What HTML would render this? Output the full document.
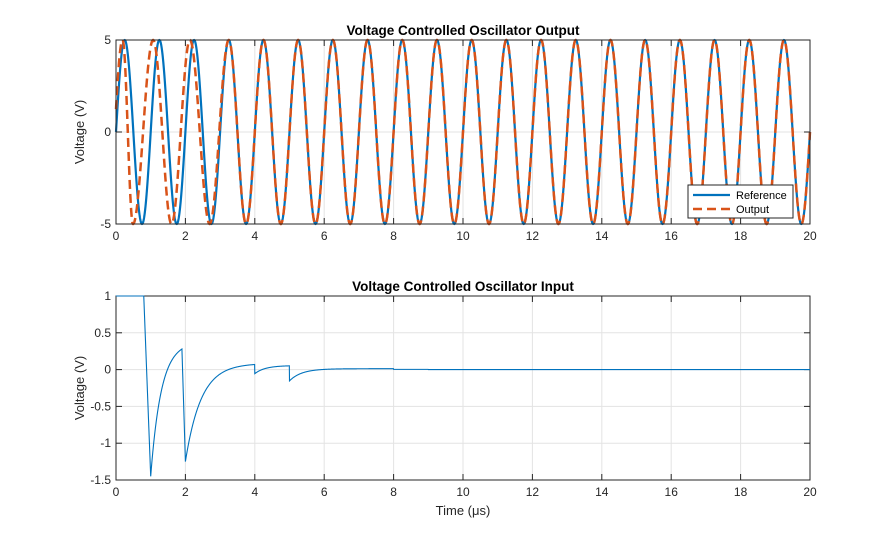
<!DOCTYPE html>
<html><head><meta charset="utf-8"><style>
body{margin:0;background:#fff;}
svg{display:block;font-family:"Liberation Sans",sans-serif;}
</style></head><body>
<svg id="s" width="895" height="540" xmlns="http://www.w3.org/2000/svg">
<rect width="895" height="540" fill="#fff"/>
<g id="g"></g>
</svg>
<script>
const NS="http://www.w3.org/2000/svg",g=document.getElementById('g');
function el(t,a,txt){const e=document.createElementNS(NS,t);for(const k in a)e.setAttribute(k,a[k]);if(txt!==undefined)e.textContent=txt;g.appendChild(e);return e;}
const X0=116,X1=810,W=X1-X0;
const xs=t=>X0+t/20*W;
function axes(y0,y1,ymin,ymax,yt){
 const ys=v=>y1-(v-ymin)/(ymax-ymin)*(y1-y0);
 for(let t=0;t<=20;t+=2){el('line',{x1:xs(t),x2:xs(t),y1:y0,y2:y1,stroke:'#e3e3e3','stroke-width':1});}
 yt.forEach(v=>el('line',{x1:X0,x2:X1,y1:ys(v),y2:ys(v),stroke:'#e3e3e3','stroke-width':1}));
 return ys;
}
function frame(y0,y1,ymin,ymax,yt,ylab,title,ys){
 el('rect',{x:X0,y:y0,width:W,height:y1-y0,fill:'none',stroke:'#262626','stroke-width':1});
 for(let t=0;t<=20;t+=2){const x=xs(t);el('line',{x1:x,x2:x,y1:y1,y2:y1-6,stroke:'#262626'});el('line',{x1:x,x2:x,y1:y0,y2:y0+6,stroke:'#262626'});
  el('text',{x:x,y:y1+16,'text-anchor':'middle','font-size':12,fill:'#262626'},t);}
 yt.forEach(v=>{const y=ys(v);el('line',{x1:X0,x2:X0+6,y1:y,y2:y,stroke:'#262626'});el('line',{x1:X1,x2:X1-6,y1:y,y2:y,stroke:'#262626'});
  el('text',{x:X0-5,y:y+4,'text-anchor':'end','font-size':12,fill:'#262626'},v);});
 el('text',{x:(X0+X1)/2,y:y0-5,'text-anchor':'middle','font-size':13.5,'font-weight':'bold',fill:'#000'},title);
 el('text',{x:0,y:0,'text-anchor':'middle','font-size':13,fill:'#262626',transform:`translate(${X0-32},${(y0+y1)/2}) rotate(-90)`},ylab);
}
function v(t){
 if(t<0.8)return 1;
 if(t<1.0)return 1-(t-0.8)/0.2*2.45;
 if(t<1.9){const a=(t-1.0);return 0.35-(1.8)*Math.exp(-a/0.3)+ (0.28-(0.35-1.8*Math.exp(-0.9/0.3)))*(a/0.9);}
 if(t<2.0)return 0.28-(t-1.9)/0.1*1.53;
 if(t<4.0){const a=t-2;return 0.085-1.335*Math.exp(-a/0.45);}
 if(t<5.0){const a=t-4;return 0.055-0.11*Math.exp(-a/0.3);}
 if(t<8){const a=t-5;return 0.012-0.165*Math.exp(-a/0.35);}
 if(t<9)return 0.003;
 return 0;
}
let ys2=axes(296,480,-1.5,1,[1,0.5,0,-0.5,-1,-1.5]);
frame(296,480,-1.5,1,[1,0.5,0,-0.5,-1,-1.5],'Voltage (V)','Voltage Controlled Oscillator Input',ys2);
let d='';for(let i=0;i<=4000;i++){const t=i*20/4000;d+=(i?'L':'M')+xs(t).toFixed(2)+' '+ys2(v(t)).toFixed(2);}
el('path',{d:d,fill:'none',stroke:'#0072bd','stroke-width':1.1});
el('text',{x:463,y:515,'text-anchor':'middle','font-size':13,fill:'#262626'},'Time  (\u03bcs)');
let ys1=axes(40,224,-5,5,[5,0,-5]);
const P=[[0,0.04],[0.19,0.25],[0.49,0.75],[1.07,1.25],[1.6,1.75],[2.13,2.25],[2.7,2.75],[3.25,3.25],[20,20]];
function ph(t){for(let i=0;i<P.length-1;i++){if(t<=P[i+1][0]){const [a,pa]=P[i],[b,pb]=P[i+1];return pa+(pb-pa)*(t-a)/(b-a);}}return t;}
const N=8000,dt=20/N;
let dr='',dout='';
for(let i=0;i<=N;i++){const t=i*dt;
 const r=5*Math.sin(2*Math.PI*t);
 const o=5*Math.sin(2*Math.PI*ph(t));
 dr+=(i?'L':'M')+xs(t).toFixed(2)+' '+ys1(r).toFixed(2);
 dout+=(i?'L':'M')+xs(t).toFixed(2)+' '+ys1(o).toFixed(2);}
el('path',{d:dr,fill:'none',stroke:'#0072bd','stroke-width':2.2});
el('path',{d:dout,fill:'none',stroke:'#d95319','stroke-width':2.5,'stroke-dasharray':'9,5'});
frame(40,224,-5,5,[5,0,-5],'Voltage (V)','Voltage Controlled Oscillator Output',ys1);
el('rect',{x:688,y:185,width:105,height:33,fill:'#fff',stroke:'#262626','stroke-width':1});
el('line',{x1:693,x2:730,y1:195,y2:195,stroke:'#0072bd','stroke-width':2.2});
el('text',{x:736,y:199,'font-size':11,fill:'#000'},'Reference');
el('line',{x1:693,x2:730,y1:209,y2:209,stroke:'#d95319','stroke-width':2.5,'stroke-dasharray':'9,5'});
el('text',{x:736,y:213,'font-size':11,fill:'#000'},'Output');
</script>
</body></html>
